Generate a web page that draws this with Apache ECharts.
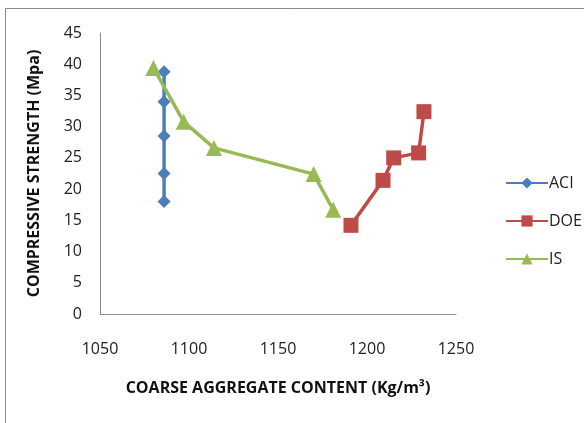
<!DOCTYPE html>
<html>
<head>
<meta charset="utf-8">
<script src="https://cdn.jsdelivr.net/npm/echarts@6/dist/echarts.min.js"></script>
<style>
  html, body { margin: 0; padding: 0; background: #fff; }
  #chart { width: 584px; height: 423px; }
</style>
</head>
<body>
<div id="chart"></div>
<script>
// Coarse aggregate content (kg/m3) vs compressive strength (MPa) per mix design method
const aciX = [1086, 1086, 1086, 1086, 1086];
const aciY = [18.0, 22.5, 28.5, 34.0, 38.8];
const doeX = [1191, 1209, 1215, 1229, 1232];
const doeY = [14.2, 21.4, 25.0, 25.8, 32.4];
const isX = [1080, 1097, 1114, 1170, 1181];
const isY = [39.4, 30.8, 26.6, 22.4, 16.7];

const xTitle = 'COARSE AGGREGATE CONTENT (Kg/m\u00B3)';
const yTitle = 'COMPRESSIVE STRENGTH (Mpa)';

const pairs = (xs, ys) => xs.map((x, i) => [x, ys[i]]);

const labelFont = { fontFamily: 'Open Sans', fontSize: 16, color: '#222' };
const titleFont = { fontFamily: 'Open Sans', fontWeight: 'bold', fontSize: 16, color: '#111' };

const chart = echarts.init(document.getElementById('chart'), null, { renderer: 'canvas' });
chart.setOption({
  animation: false,
  backgroundColor: '#fff',
  graphic: [{
    type: 'rect',
    shape: { x: 5.5, y: 8.5, width: 600, height: 500 },
    style: { fill: 'none', stroke: '#888', lineWidth: 1 },
    silent: true
  }],
  grid: { left: 100, top: 33, right: 128, bottom: 109 },
  xAxis: {
    type: 'value', min: 1050, max: 1250, interval: 50,
    name: xTitle, nameLocation: 'middle', nameGap: 66,
    nameTextStyle: titleFont,
    axisLine: { lineStyle: { color: '#8c8c8c', width: 1 } },
    axisTick: { show: false },
    splitLine: { show: false },
    axisLabel: Object.assign({ margin: 27, formatter: v => String(v) }, labelFont)
  },
  yAxis: {
    type: 'value', min: 0, max: 45, interval: 5,
    name: yTitle, nameLocation: 'middle', nameGap: 58, nameRotate: 90,
    nameTextStyle: titleFont,
    axisLine: { show: true, lineStyle: { color: '#8c8c8c', width: 1 } },
    axisTick: { show: false },
    splitLine: { show: false },
    axisLabel: Object.assign({ margin: 18 }, labelFont)
  },
  legend: {
    orient: 'vertical', left: 500, top: 170, itemGap: 22,
    itemWidth: 42, itemHeight: 14,
    textStyle: { fontFamily: 'Open Sans', fontSize: 16, color: '#222', padding: [0, 0, 0, -4] },
    data: ['ACI', 'DOE', 'IS']
  },
  series: [
    {
      name: 'ACI', type: 'line', data: pairs(aciX, aciY),
      symbol: 'diamond', symbolSize: 13,
      lineStyle: { color: '#4a7ebb', width: 3.5 },
      itemStyle: { color: '#4a7ebb' }
    },
    {
      name: 'DOE', type: 'line', data: pairs(doeX, doeY),
      symbol: 'rect', symbolSize: 15,
      lineStyle: { color: '#be4b48', width: 3.5 },
      itemStyle: { color: '#be4b48' }
    },
    {
      name: 'IS', type: 'line', data: pairs(isX, isY),
      symbol: 'triangle', symbolSize: 16,
      lineStyle: { color: '#98b954', width: 3.5 },
      itemStyle: { color: '#98b954' }
    }
  ]
});
</script>
</body>
</html>
